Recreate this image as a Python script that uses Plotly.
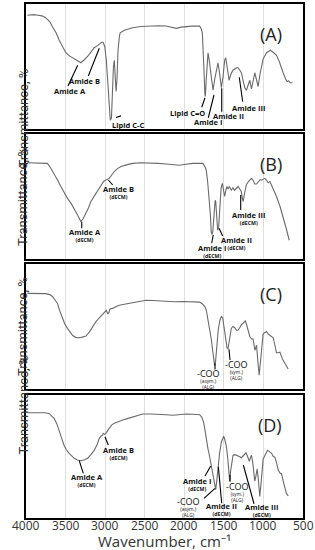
import plotly.graph_objects as go

# ---------------- data (wavenumber cm-1, relative transmittance) ----------------
wn_A = [3983, 3900, 3850, 3797, 3760, 3730, 3700, 3667, 3620, 3580, 3540, 3497, 3450, 3412, 3360, 3307,
        3270, 3222, 3180, 3138, 3100, 3074, 3040, 3024, 3005, 2985, 2969, 2950, 2935, 2920, 2906, 2895,
        2884, 2872, 2862, 2850, 2837, 2820, 2810, 2757, 2700, 2652, 2550, 2440, 2330, 2230, 2160, 2100,
        2040, 1975, 1900, 1806, 1785, 1772, 1760, 1751, 1740, 1734, 1722, 1710, 1700, 1685, 1660, 1637,
        1615, 1590, 1574, 1555, 1531, 1510, 1490, 1476, 1460, 1434, 1410, 1385, 1362, 1340, 1320, 1300,
        1278, 1255, 1235, 1215, 1195, 1172, 1151, 1130, 1109, 1090, 1067, 1040, 1004, 960, 911, 870,
        835, 800, 770, 751, 720, 700, 680, 660, 633]
tr_A = [91, 91.5, 91, 90.5, 89.5, 88, 86, 82, 77, 71, 66, 61, 58.5, 57, 55, 53,
        55, 58, 61.5, 65, 66.5, 68, 69.5, 69, 66, 55, 37, 18, 7, 9, 37, 50,
        55, 45, 30, 40, 63, 74, 77, 79, 80, 81, 82, 82.4, 82.6, 82.4, 81.5, 80.5,
        81.5, 82, 82.3, 82.4, 80, 77, 65, 47, 28, 26, 40, 55, 61, 55, 40, 31,
        40, 50, 53, 45, 33, 42, 55, 57, 50, 39, 44, 47, 48, 49, 49, 47,
        45, 38, 33, 31, 35, 39, 32, 40, 45, 40, 34, 45, 56, 61, 63, 61,
        59, 54, 48, 45, 40, 38, 38.5, 37, 37]

wn_B = [3983, 3900, 3800, 3730, 3690, 3645, 3600, 3560, 3520, 3476, 3430, 3391, 3350, 3328, 3306, 3280,
        3243, 3210, 3180, 3150, 3116, 3080, 3053, 3020, 2998, 2975, 2948, 2920, 2884, 2840, 2800, 2720,
        2652, 2550, 2440, 2330, 2230, 2140, 2060, 1980, 1890, 1800, 1764, 1740, 1722, 1705, 1688, 1670,
        1660, 1650, 1640, 1625, 1610, 1603, 1590, 1578, 1565, 1550, 1535, 1519, 1505, 1490, 1475, 1460,
        1448, 1430, 1406, 1385, 1365, 1342, 1320, 1300, 1280, 1265, 1255, 1240, 1225, 1215, 1190, 1170,
        1151, 1130, 1110, 1088, 1065, 1040, 1025, 1000, 982, 960, 940, 918, 880, 835, 790, 750, 710, 674]
tr_B = [77, 77, 76.8, 76.5, 73, 68.5, 63, 58, 53, 48.5, 44.5, 40.5, 35.5, 32.5, 30, 32,
        36.5, 41, 46, 49.5, 52.5, 56, 59, 62, 63, 63.5, 64.5, 67, 70, 72.5, 74, 75.5,
        76.5, 77, 77, 76.5, 76, 75.5, 75, 75.8, 76.5, 76.5, 76.5, 74, 71, 62, 50, 35,
        22, 19.5, 22, 38, 47, 46, 32, 23, 26, 45, 57, 60.5, 56, 50, 55, 58,
        56, 58, 55, 57, 55, 57, 58, 56, 54, 48, 46, 52, 58, 59.5, 62, 63,
        64.5, 63, 60, 60, 62, 63.5, 63, 64, 64.5, 63, 61, 62, 57, 50, 42, 34, 24, 15]

wn_C = [3983, 3850, 3750, 3700, 3667, 3630, 3603, 3570, 3540, 3510, 3476, 3440, 3412, 3380, 3349, 3300,
        3243, 3200, 3159, 3120, 3074, 3030, 3000, 2985, 2965, 2950, 2940, 2906, 2860, 2821, 2740, 2652,
        2560, 2483, 2400, 2300, 2230, 2120, 2018, 1900, 1806, 1770, 1740, 1722, 1700, 1680, 1659, 1640,
        1625, 1616, 1605, 1590, 1570, 1550, 1531, 1515, 1500, 1480, 1460, 1448, 1435, 1420, 1406, 1385,
        1362, 1340, 1320, 1300, 1278, 1250, 1230, 1215, 1195, 1172, 1150, 1130, 1108, 1087, 1070, 1054,
        1040, 1020, 1004, 985, 961, 940, 918, 895, 876, 855, 835, 815, 792, 760, 730, 700, 687]
tr_C = [76.5, 76.5, 76.3, 75.5, 74, 71, 68.5, 62, 56.5, 52, 48.5, 45, 43, 41.5, 41, 41.3,
        42.4, 45.5, 50, 53.5, 57, 60, 62.6, 63, 60, 61.5, 64, 64.5, 66, 67, 68, 69,
        70, 71, 70.8, 70.3, 70, 69.8, 70, 70, 69.5, 68, 66, 63, 56, 48, 40, 30,
        22, 18.5, 22, 35, 48, 55, 58, 57, 50, 40, 33, 32, 38, 46, 48.5, 50,
        49, 47, 47, 49, 51.5, 53, 54.5, 52, 47, 42, 40, 40, 31, 35, 22, 11,
        20, 38, 44, 45, 46, 44, 43, 42.5, 41, 35, 29, 29, 29.5, 24, 21, 17, 16]

wn_D = [3983, 3850, 3760, 3708, 3680, 3645, 3610, 3580, 3550, 3518, 3490, 3455, 3420, 3391, 3350, 3306,
        3260, 3222, 3180, 3138, 3100, 3074, 3049, 3030, 3024, 3005, 2990, 2970, 2948, 2920, 2884, 2830,
        2779, 2720, 2652, 2590, 2525, 2420, 2314, 2230, 2145, 2060, 1975, 1890, 1806, 1780, 1756, 1740,
        1722, 1700, 1680, 1660, 1637, 1620, 1603, 1590, 1574, 1555, 1531, 1515, 1502, 1485, 1468, 1450,
        1435, 1426, 1415, 1400, 1384, 1360, 1334, 1305, 1278, 1250, 1220, 1200, 1178, 1165, 1151, 1135,
        1120, 1109, 1095, 1079, 1065, 1046, 1030, 1004, 980, 948, 925, 897, 875, 855, 835, 813,
        790, 771, 750, 729, 710, 686]
tr_D = [85.6, 85.8, 85.6, 85, 83.5, 81, 76.5, 71.5, 65, 59, 55.5, 52.6, 50.3, 48.5, 47.2, 46.6,
        47.3, 48.5, 51.5, 55, 60, 64.8, 66.7, 67.5, 68.8, 68, 69, 71, 73.7, 75.5, 77, 78.5,
        79.7, 80.8, 81.9, 83.5, 84.5, 84.6, 84.5, 84, 83.5, 84, 84.5, 84.3, 84, 82, 78, 72,
        63.4, 56, 50, 43, 37.7, 30, 23, 30, 41.7, 52, 62, 65.5, 66.5, 63, 58, 48,
        35, 30, 38, 47, 51, 51.5, 51, 50, 49, 51, 53, 50, 46, 49, 51, 45,
        38, 30, 34, 40, 32, 17.5, 28, 47.7, 51, 55, 54, 52.6, 50, 49.5, 45, 39,
        36.6, 36, 30, 24, 20, 18]

panel_letters = ["(A)", "(B)", "(C)", "(D)"]
tick_vals = [4000, 3500, 3000, 2500, 2000, 1500, 1000, 500]
tick_text = ["4000", "3500", "3000", "2500", "2000", "1500", "1000", "500"]

# labels: panel, main text, sub lines, block centre (wn, tr), leader line (wn1, tr1, wn2, tr2)
labels = [
    (0, "Amide A", [], (3444, 30.6), (3469, 34.4, 3347, 51)),
    (0, "Amide B", [], (3255, 38.4), (3213, 42.4, 3074, 64.6)),
    (0, "Lipid C-C", [], (2707, 3.4), (2863, 9.2, 2800, 10.5)),
    (0, "Lipid C=O", [], (1957, 12.6), (1780, 17.4, 1738, 25)),
    (0, "Amide I", [], (1704, 5.4), (1697, 9, 1625, 27.2)),
    (0, "Amide II", [], (1444, 10.4), (1527, 13.8, 1527, 32.6)),
    (0, "Amide III", [], (1191, 17), (1262, 21.8, 1305, 41.4)),
    (1, "Amide A", ["(dECM)"], (3255, 19.2), (3296, 24.6, 3296, 29.8)),
    (1, "Amide B", ["(dECM)"], (2834, 53.1), (2905, 59.2, 2960, 63.2)),
    (1, "Amide I", ["(dECM)"], (1654, 6.3), (1654, 12.6, 1634, 19.2)),
    (1, "Amide II", ["(dECM)"], (1340, 12.5), (1515, 18.4, 1561, 24.6)),
    (1, "Amide III", ["(dECM)"], (1191, 32.8), (1287, 39.2, 1287, 51.2)),
    (2, "-COO", ["(asym.)", "(ALG)"], (1690, 8.2), (1612, 15.6, 1612, 20.6)),
    (2, "-COO", ["(sym.)", "(ALG)"], (1345, 15.4), (1422, 23.2, 1435, 31.8)),
    (3, "Amide A", ["(dECM)"], (3225, 30.4), (3276, 36.3, 3327, 46.6)),
    (3, "Amide B", ["(dECM)"], (2834, 52.8), (2960, 59.3, 3002, 66.1)),
    (3, "Amide I", ["(dECM)"], (1843, 27.6), (1738, 34.1, 1666, 42.3)),
    (3, "-COO", ["(asym.)", "(ALG)"], (1949, 9.6), (1751, 16, 1612, 24.1)),
    (3, "Amide II", ["(dECM)"], (1527, 6.6), (1527, 12, 1570, 41.7)),
    (3, "-COO", ["(sym.)", "(ALG)"], (1330, 21.2), (1422, 29.5, 1422, 35)),
    (3, "Amide III", ["(dECM)"], (1022, 6.0), (1119, 11.6, 1254, 43.1)),
]

# ---------------- layout geometry ----------------
W, H = 315, 550
ml, mr, mt, mb = 26, 12, 4, 32
ph = H - mt - mb
panels_px = [(4, 129), (134, 259), (264, 389), (395, 518)]


def dom(top, bot):
    return [1 - (bot - mt) / ph, 1 - (top - mt) / ph]


def py(pix):  # page pixel y -> paper y
    return 1 - (pix - mt) / ph


series = [(wn_A, tr_A), (wn_B, tr_B), (wn_C, tr_C), (wn_D, tr_D)]
fig = go.Figure()
FONT = "Open Sans, Noto Sans, sans-serif"
layout = dict(width=W, height=H, margin=dict(l=ml, r=mr, t=mt, b=mb),
              plot_bgcolor="white", paper_bgcolor="white", showlegend=False,
              font=dict(family=FONT, color="#222"))
annotations = []
shapes = []

for i, (wx, ty) in enumerate(series):
    sfx = "" if i == 0 else str(i + 1)
    xa, ya = "x" + sfx, "y" + sfx
    fig.add_trace(go.Scatter(x=wx, y=ty, mode="lines", xaxis=xa, yaxis=ya,
                             line=dict(color="#6a6a6a", width=1.1), hoverinfo="skip"))
    layout["xaxis" + sfx] = dict(range=[4000, 500], anchor=ya, showline=True, mirror=True,
                                 linecolor="black", linewidth=2.2, showgrid=True,
                                 gridcolor="#dedede", gridwidth=1, tickvals=tick_vals,
                                 showticklabels=False, ticks="", automargin=False, zeroline=False)
    layout["yaxis" + sfx] = dict(range=[0, 100], anchor=xa, domain=dom(*panels_px[i]),
                                 showline=True, mirror=True, linecolor="black", linewidth=2.2,
                                 showgrid=False, showticklabels=False, ticks="", zeroline=False,
                                 automargin=False)
    top, bot = panels_px[i]
    annotations.append(dict(text="Transmittance, %", textangle=-90, xref="paper", yref="paper",
                            x=(13 - ml) / (W - ml - mr), y=py((top + bot) / 2), showarrow=False,
                            font=dict(size=13, color="#333", family="Roboto, sans-serif")))
    annotations.append(dict(text=panel_letters[i], xref=xa + " domain", yref=ya + " domain",
                            x=0.931, y=0.87, showarrow=False,
                            font=dict(size=18, color="#222", family=FONT)))

# bottom tick labels
for v, t in zip(tick_vals, tick_text):
    annotations.append(dict(text=t, x=v, xref="x4", yref="paper", y=py(525.5), yanchor="middle",
                            showarrow=False, font=dict(size=12, color="#333", family=FONT)))

for p, main, subs, (tx, ty), (x1, y1, x2, y2) in labels:
    sfx = "" if p == 0 else str(p + 1)
    xa, ya = "x" + sfx, "y" + sfx
    is_coo = main.startswith("-COO")
    if is_coo:
        head = "<span style='font-size:9px'>%s</span>" % main
        body = "<br>".join(subs)
        base = 4.8
    elif subs:
        head = "<span style='font-size:7.5px'><b>%s</b></span>" % main
        body = "<br>".join("<b>%s</b>" % s for s in subs)
        base = 5.2
    else:
        head = "<b>%s</b>" % main
        body = ""
        base = 7.5
    txt = head + ("<br>" + body if body else "")
    annotations.append(dict(text=txt, x=tx, y=ty, xref=xa, yref=ya, showarrow=False,
                            yanchor="middle", borderpad=0,
                            font=dict(size=base, color="#111", family=FONT)))
    shapes.append(dict(type="line", xref=xa, yref=ya, x0=x1, y0=y1, x1=x2, y1=y2,
                       line=dict(color="black", width=1.1)))

annotations.append(dict(text="Wavenumber, cm\u207b\u00b9", xref="paper", yref="paper",
                        x=0.5, y=py(541), yanchor="middle", showarrow=False,
                        font=dict(size=15, color="#333", family=FONT)))

layout["annotations"] = annotations
layout["shapes"] = shapes
fig.update_layout(**layout)
fig.write_html("out.html", config={"displayModeBar": False},
               post_script="document.body.style.margin='0';document.body.style.overflow='hidden';")
